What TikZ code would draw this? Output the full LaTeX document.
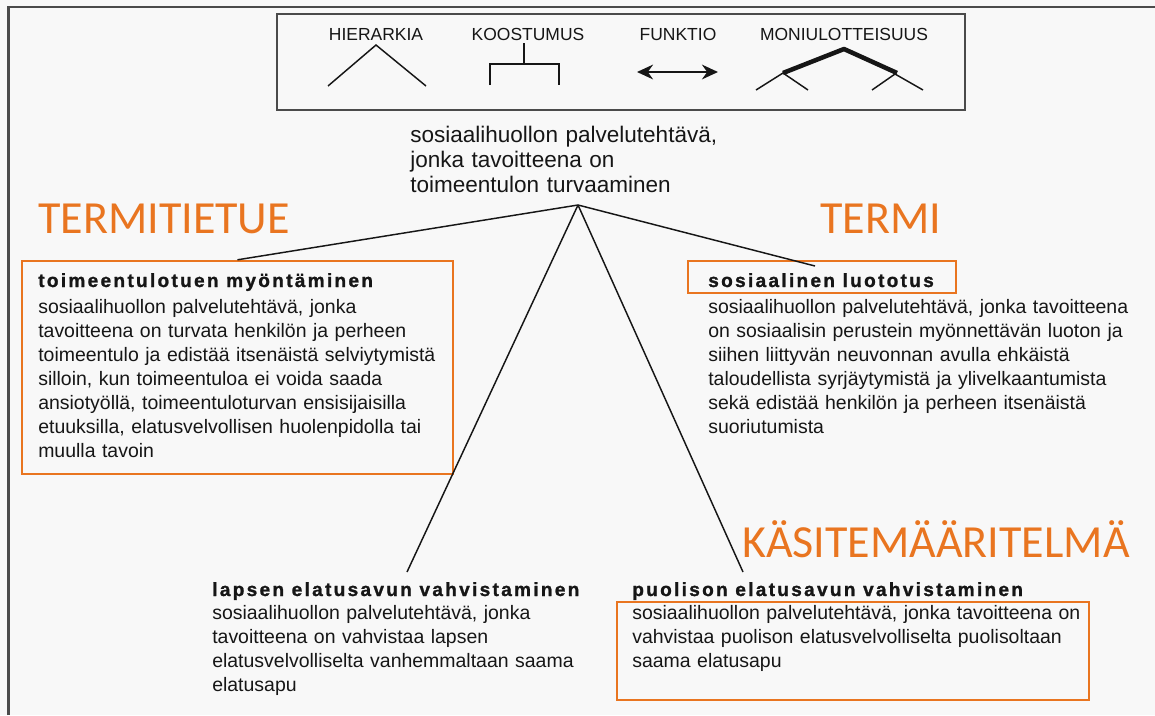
\documentclass[tikz,border=0pt]{standalone}
\usepackage{fontspec}
\setmainfont{Liberation Sans}
\newfontfamily\headfont[LetterSpace=12, FakeBold=1.2]{Liberation Sans Bold}
\newfontfamily\labelfont{Carlito}
\usetikzlibrary{positioning,fit,arrows.meta}
\definecolor{termorange}{RGB}{233,117,32}
\definecolor{framegray}{RGB}{75,75,75}
\definecolor{paper}{RGB}{248,248,248}
\definecolor{ink}{RGB}{22,22,22}

\tikzset{
  bodytext/.style={anchor=base west, inner sep=0pt, text width=#1, align=left,
    text=ink, font=\fontsize{14.6}{18}\selectfont},
  roottext/.style={anchor=base west, inner sep=0pt, text width=#1, align=left,
    text=ink, font=\fontsize{16.9}{19.1}\selectfont},
  headtext/.style={anchor=base west, inner sep=0pt, text=ink,
    font={\headfont\fontsize{14.3}{16}\selectfont}},
  legendtext/.style={anchor=base, inner sep=0pt, text=ink,
    font=\fontsize{13.1}{15}\selectfont},
  termlabel/.style={anchor=base west, inner sep=0pt, text=termorange,
    font=\labelfont\fontsize{34.5}{40}\selectfont},
  termbox/.style={draw=termorange, line width=1.8pt, inner sep=0pt},
  branch/.style={draw=ink, line width=1.1pt},
  legendline/.style={draw=ink, line width=1.1pt}
}

\begin{document}
\begin{tikzpicture}[x=0.75pt, y=-0.75pt]
\fill[paper] (0,0) rectangle (1155,715);
\useasboundingbox (0,0) rectangle (1155,715);
\draw[framegray, line width=2.2pt] (8.5,715) -- (8.5,7) -- (1155,7);

% legend
\draw[framegray, line width=1.5pt] (277,14) rectangle (965,110);
\node (hier) [legendtext] at (376,40) {HIERARKIA};
\node (koos) [legendtext] at (528,40) {KOOSTUMUS};
\node (funk) [legendtext] at (678,40) {FUNKTIO};
\node (moni) [legendtext] at (844,40) {MONIULOTTEISUUS};
\draw[legendline] (328,86) -- (376,45) -- (426,86);
\draw[legendline, line width=1.4pt] (524,43) -- (524,64);
\draw[legendline, line width=1.4pt] (490,85) -- (490,64) -- (559,64) -- (559,85);
\draw[legendline, line width=1.8pt, {Stealth[length=12pt,width=11pt]}-{Stealth[length=12pt,width=11pt]}] (637,72) -- (718,72);
\draw[legendline, line width=3.4pt, line join=round] (783,73) -- (844,49) -- (897,73);
\draw[legendline] (756,90) -- (783,73) -- (808,90);
\draw[legendline] (872,90) -- (895,74) -- (923,90);

% root
\node (root) [roottext=260pt] at (410,142) {sosiaalihuollon palvelutehtävä,\\
  jonka tavoitteena on\\ toimeentulon turvaaminen};
\coordinate (apex) at (578,205);

% labels
\node (tietue) [termlabel] at (38,233) {TERMITIETUE};
\node (termi) [termlabel] at (820,233) {TERMI};
\node (maar) [termlabel] at (742,557) {KÄSITEMÄÄRITELMÄ};

% toimeentulotuki
\node (tukibox) [termbox, fit={(22,261) (453,474)}] {};
\node (tukihead) [headtext] at (38,287) {toimeentulotuen myöntäminen};
\node (tukitext) [bodytext=330pt] at (38,313) {sosiaalihuollon palvelutehtävä, jonka\\
  tavoitteena on turvata henkilön ja perheen\\
  toimeentulo ja edistää itsenäistä selviytymistä\\
  silloin, kun toimeentuloa ei voida saada\\
  ansiotyöllä, toimeentuloturvan ensisijaisilla\\
  etuuksilla, elatusvelvollisen huolenpidolla tai\\
  muulla tavoin};

% luototus
\node (luotbox) [termbox, fit={(688,261) (956,293)}] {};
\node (luothead) [headtext] at (708,287) {sosiaalinen luototus};
\node (luottext) [bodytext=340pt] at (708,313) {sosiaalihuollon palvelutehtävä, jonka tavoitteena\\
  on sosiaalisin perustein myönnettävän luoton ja\\
  siihen liittyvän neuvonnan avulla ehkäistä\\
  taloudellista syrjäytymistä ja ylivelkaantumista\\
  sekä edistää henkilön ja perheen itsenäistä\\
  suoriutumista};
\coordinate (luotend) at (815,266);

% lapsen elatusapu
\node (lapshead) [headtext] at (212,596) {lapsen elatusavun vahvistaminen};
\node (lapstext) [bodytext=320pt] at (212,619) {sosiaalihuollon palvelutehtävä, jonka\\
  tavoitteena on vahvistaa lapsen\\
  elatusvelvolliselta vanhemmaltaan saama\\
  elatusapu};
\coordinate (lapsend) at (407,572);

% puolison elatusapu
\node (puolhead) [headtext] at (632,596) {puolison elatusavun vahvistaminen};
\node (puolbox) [termbox, fit={(617,602) (1089,700)}] {};
\node (puoltext) [bodytext=345pt] at (632,619) {sosiaalihuollon palvelutehtävä, jonka tavoitteena on\\
  vahvistaa puolison elatusvelvolliselta puolisoltaan\\
  saama elatusapu};
\coordinate (puolend) at (743,572);

% branches
\draw[branch] (apex) -- (tukibox.north);
\draw[branch] (apex) -- (luotend);
\draw[branch] (apex) -- (lapsend);
\draw[branch] (apex) -- (puolend);
\end{tikzpicture}
\end{document}
